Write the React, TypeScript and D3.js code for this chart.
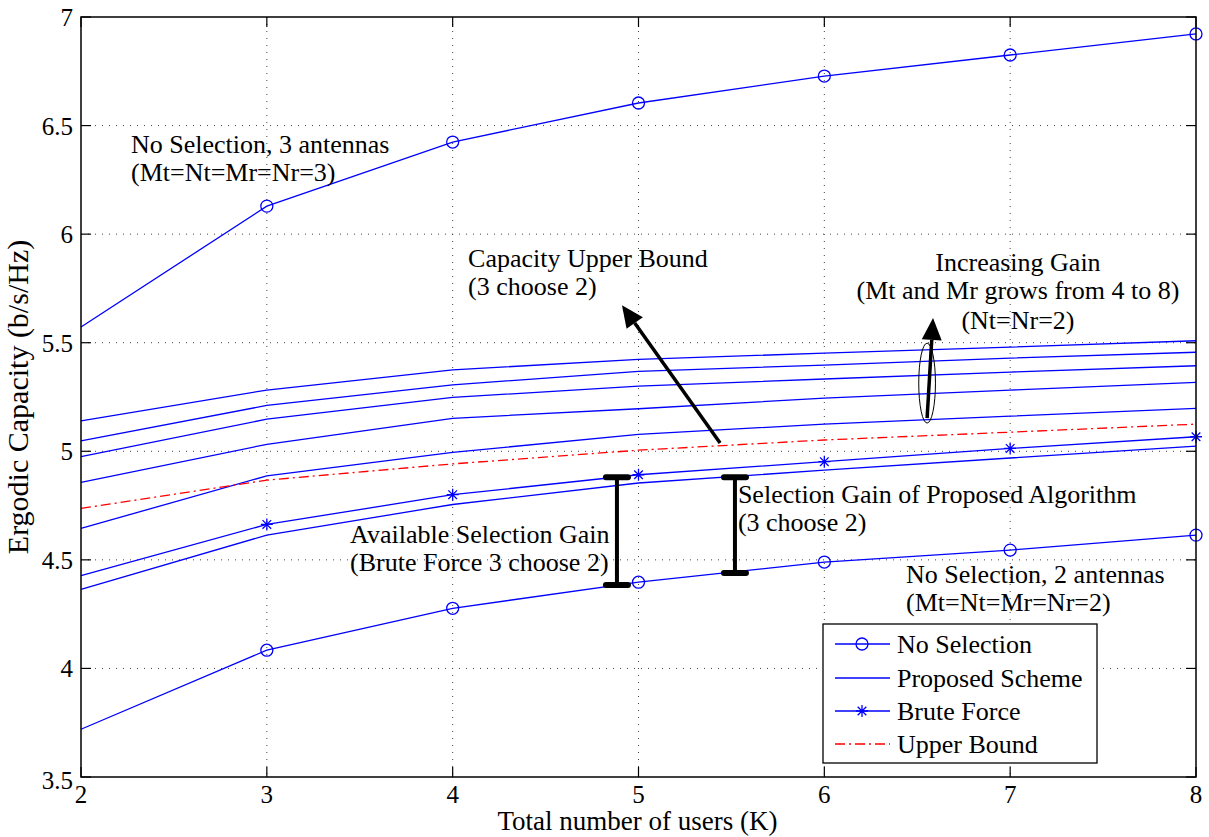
import React from "react";
import * as d3 from "d3";

// number of users K
const users = [2, 3, 4, 5, 6, 7, 8];

// no selection, 3 and 2 antennas
const noSel3 = [5.572, 6.129, 6.424, 6.604, 6.728, 6.825, 6.922];
const noSel2 = [3.72, 4.084, 4.277, 4.397, 4.49, 4.545, 4.614];

// proposed scheme, Mt=Mr = 8,7,6,5,4 (Nt=Nr=2)
const prop8 = [5.14, 5.282, 5.375, 5.423, 5.452, 5.48, 5.509];
const prop7 = [5.048, 5.211, 5.306, 5.368, 5.397, 5.429, 5.456];
const prop6 = [4.975, 5.148, 5.248, 5.3, 5.333, 5.365, 5.394];
const prop5 = [4.857, 5.032, 5.152, 5.196, 5.245, 5.282, 5.317];
const prop4 = [4.645, 4.887, 4.995, 5.078, 5.125, 5.162, 5.198];
// proposed scheme, 3 choose 2
const prop3c2 = [4.364, 4.614, 4.755, 4.854, 4.913, 4.969, 5.024];

// brute force 3 choose 2, upper bound
const brute = [4.427, 4.663, 4.8, 4.892, 4.952, 5.013, 5.067];
const upper = [4.737, 4.867, 4.942, 5.005, 5.052, 5.088, 5.125];

const xTicks = [2, 3, 4, 5, 6, 7, 8];
const yTicks = [3.5, 4, 4.5, 5, 5.5, 6, 6.5, 7];
const legendLabels = ["No Selection", "Proposed Scheme", "Brute Force", "Upper Bound"];

const W = 1209, H = 837;
const left = 81, right = 1196, top = 17, bottom = 777;
const FONT = "'Liberation Serif', 'Times New Roman', serif";
const BLUE = "#0000ff";

const x = d3.scaleLinear().domain([2, 8]).range([left, right]);
const y = d3.scaleLinear().domain([3.5, 7]).range([bottom, top]);

const line = d3.line<number>()
  .x((d, i) => x(users[i]))
  .y((d) => y(d));

function starPath(cx: number, cy: number, s: number) {
  const d = s * 0.72;
  return `M${cx - s},${cy}L${cx + s},${cy}M${cx},${cy - s}L${cx},${cy + s}` +
    `M${cx - d},${cy - d}L${cx + d},${cy + d}M${cx - d},${cy + d}L${cx + d},${cy - d}`;
}

function Arrow({ x1, y1, x2, y2 }: { x1: number; y1: number; x2: number; y2: number }) {
  // from (x1,y1) to tip (x2,y2), data units
  const px1 = x(x1), py1 = y(y1), px2 = x(x2), py2 = y(y2);
  const a = Math.atan2(py2 - py1, px2 - px1);
  const len = 22, wid = 10;
  const bx = px2 - len * Math.cos(a), by = py2 - len * Math.sin(a);
  const head = [
    [px2, py2],
    [bx + wid * Math.sin(a), by - wid * Math.cos(a)],
    [bx - wid * Math.sin(a), by + wid * Math.cos(a)],
  ];
  return (
    <g>
      <line x1={px1} y1={py1} x2={bx} y2={by} stroke="#000" strokeWidth={3.5} />
      <polygon points={head.map((p) => p.join(",")).join(" ")} fill="#000" />
    </g>
  );
}

function IBar({ xv, y1, y2 }: { xv: number; y1: number; y2: number }) {
  const px = x(xv);
  return (
    <g stroke="#000" strokeWidth={4}>
      <line x1={px} x2={px} y1={y(y1)} y2={y(y2)} />
      <line x1={px - 11} x2={px + 11} y1={y(y1)} y2={y(y1)} strokeWidth={6} strokeLinecap="round" />
      <line x1={px - 11} x2={px + 11} y1={y(y2)} y2={y(y2)} strokeWidth={6} strokeLinecap="round" />
    </g>
  );
}

function Label({ xv, yv, lines, anchor = "start" }: { xv: number; yv: number[]; lines: string[]; anchor?: string }) {
  return (
    <g>
      {lines.map((t, i) => (
        <text key={i} x={x(xv)} y={y(yv[i])} textAnchor={anchor} fontSize={26} fontFamily={FONT} fill="#000">
          {t}
        </text>
      ))}
    </g>
  );
}

export default function App() {
  const propSeries = [prop8, prop7, prop6, prop5, prop4, prop3c2];
  const legX = 823, legY = 624, legW = 274, legH = 139;
  const rowY = [644, 678, 711, 744];

  return (
    <svg width={W} height={H} style={{ position: "absolute", left: 0, top: 0, background: "#fff" }}>
      <rect x={0} y={0} width={W} height={H} fill="#fff" />

      {/* grid */}
      <g stroke="#444" strokeWidth={1} strokeDasharray="1,6">
        {xTicks.slice(1, -1).map((t) => (
          <line key={"gx" + t} x1={x(t)} x2={x(t)} y1={top} y2={bottom} />
        ))}
        {yTicks.slice(1, -1).map((t) => (
          <line key={"gy" + t} x1={left} x2={right} y1={y(t)} y2={y(t)} />
        ))}
      </g>

      {/* ticks, inward on all sides */}
      <g stroke="#000" strokeWidth={1.2}>
        {xTicks.map((t) => (
          <g key={"tx" + t}>
            <line x1={x(t)} x2={x(t)} y1={bottom} y2={bottom - 10} />
            <line x1={x(t)} x2={x(t)} y1={top} y2={top + 10} />
          </g>
        ))}
        {yTicks.map((t) => (
          <g key={"ty" + t}>
            <line x1={left} x2={left + 10} y1={y(t)} y2={y(t)} />
            <line x1={right} x2={right - 10} y1={y(t)} y2={y(t)} />
          </g>
        ))}
      </g>

      {/* tick labels */}
      <g fontFamily={FONT} fontSize={25} fill="#000">
        {xTicks.map((t) => (
          <text key={"lx" + t} x={x(t)} y={bottom + 26} textAnchor="middle">{t}</text>
        ))}
        {yTicks.map((t) => (
          <text key={"ly" + t} x={left - 8} y={y(t) + (t === 3.5 ? 12 : 9)} textAnchor="end">{t}</text>
        ))}
      </g>

      {/* axis titles */}
      <text x={(left + right) / 2 - 1} y={830} textAnchor="middle" fontFamily={FONT} fontSize={27}>
        Total number of users (K)
      </text>
      <text transform={`translate(28,${(top + bottom) / 2}) rotate(-90)`} textAnchor="middle" fontFamily={FONT} fontSize={30}>
        Ergodic Capacity (b/s/Hz)
      </text>

      {/* series */}
      <g fill="none" stroke={BLUE} strokeWidth={1.3}>
        <path d={line(noSel3) || ""} />
        <path d={line(noSel2) || ""} />
        {propSeries.map((s, i) => (
          <path key={"p" + i} d={line(s) || ""} />
        ))}
        <path d={line(brute) || ""} />
      </g>
      <path d={line(upper) || ""} fill="none" stroke="#ff0000" strokeWidth={1.3} strokeDasharray="10,4,2,4" />

      {/* markers */}
      <g fill="none" stroke={BLUE} strokeWidth={1.3}>
        {users.slice(1).map((u, j) => (
          <g key={"m" + u}>
            <circle cx={x(u)} cy={y(noSel3[j + 1])} r={6} />
            <circle cx={x(u)} cy={y(noSel2[j + 1])} r={6} />
            <path d={starPath(x(u), y(brute[j + 1]), 6)} />
          </g>
        ))}
      </g>

      {/* axes box */}
      <rect x={left} y={top} width={right - left} height={bottom - top} fill="none" stroke="#000" strokeWidth={1.5} />

      {/* annotations */}
      <Label xv={2.269} yv={[6.374, 6.245]} lines={["No Selection, 3 antennas", "(Mt=Nt=Mr=Nr=3)"]} />
      <Label xv={4.083} yv={[5.848, 5.719]} lines={["Capacity Upper Bound", "(3 choose 2)"]} />
      <Label xv={7.042} yv={[5.83, 5.701, 5.563]} anchor="middle"
        lines={["Increasing Gain", "(Mt and Mr grows from 4 to 8)", "(Nt=Nr=2)"]} />
      <Label xv={3.448} yv={[4.577, 4.448]} lines={["Available Selection Gain", "(Brute Force 3 choose 2)"]} />
      <Label xv={5.535} yv={[4.761, 4.632]} lines={["Selection Gain of Proposed Algorithm", "(3 choose 2)"]} />
      <Label xv={6.44} yv={[4.393, 4.264]} lines={["No Selection, 2 antennas", "(Mt=Nt=Mr=Nr=2)"]} />

      <Arrow x1={5.439} y1={5.038} x2={4.911} y2={5.673} />
      <ellipse cx={x(6.553)} cy={y(5.314)} rx={x(6.553 + 0.045) - x(6.553)} ry={y(5.314) - y(5.314 + 0.184)}
        fill="none" stroke="#000" strokeWidth={1} />
      <Arrow x1={6.553} y1={5.153} x2={6.585} y2={5.614} />

      <IBar xv={4.884} y1={4.881} y2={4.384} />
      <IBar xv={5.519} y1={4.881} y2={4.439} />

      {/* legend */}
      <g>
        <rect x={legX} y={legY} width={legW} height={legH} fill="#fff" stroke="#000" strokeWidth={1.3} />
        {legendLabels.map((lab, i) => (
          <g key={lab}>
            <line x1={835} x2={890} y1={rowY[i]} y2={rowY[i]}
              stroke={i === 3 ? "#ff0000" : BLUE} strokeWidth={1.3}
              strokeDasharray={i === 3 ? "10,4,2,4" : undefined} />
            {i === 0 && <circle cx={862} cy={rowY[i]} r={6} fill="none" stroke={BLUE} strokeWidth={1.3} />}
            {i === 2 && <path d={starPath(862, rowY[i], 6)} fill="none" stroke={BLUE} strokeWidth={1.3} />}
            <text x={897} y={rowY[i] + 9} fontFamily={FONT} fontSize={26}>{lab}</text>
          </g>
        ))}
      </g>
    </svg>
  );
}
